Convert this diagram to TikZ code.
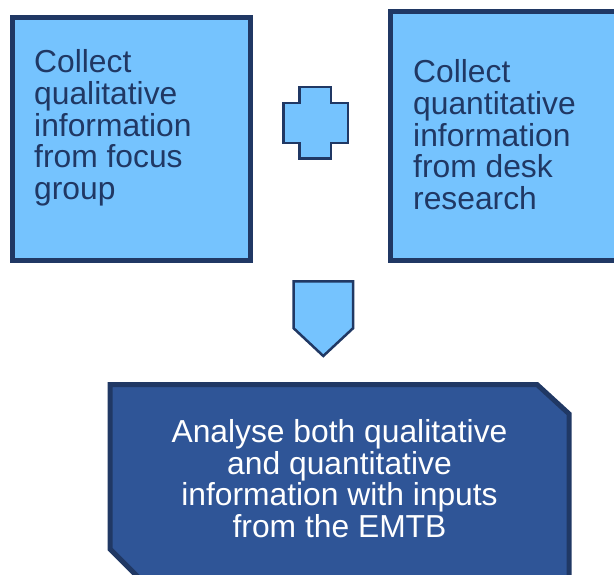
\documentclass[tikz,border=0pt]{standalone}
\usepackage{fontspec}
\setmainfont{Liberation Sans}
\usepackage{tikz}
\usetikzlibrary{positioning}

\definecolor{lightfill}{HTML}{75C3FE}
\definecolor{navyline}{HTML}{203864}
\definecolor{darkfill}{HTML}{2F5597}

\begin{document}
\begin{tikzpicture}[
        x=1pt, y=-1pt,
        inputbox/.style={rectangle, draw=navyline, fill=lightfill, line width=5pt, inner sep=0pt, outer sep=0pt},
        symbolshape/.style={draw=navyline, fill=lightfill, line width=2.5pt, line join=miter},
        boxtext/.style={font=\fontsize{31.8}{31.75}\selectfont, align=left, inner sep=0pt, text=navyline}
    ]

    \useasboundingbox (0,0) rectangle (614,575);

    % Two input boxes
    \node[inputbox, minimum width=238.6pt, minimum height=243.3pt] (qual) at (131.5,139.15) {};
    \node[inputbox, minimum width=250pt, minimum height=249.6pt] (quant) at (515,136) {};

    \node[boxtext, below right=31.8pt and 21.8pt of qual.north west] (qualtext)
        {Collect\\qualitative\\information\\from focus\\group};
    \node[boxtext, below right=48.1pt and 23pt of quant.north west] (quanttext)
        {Collect\\quantitative\\information\\from desk\\research};

    % --------------------------------------------------
    % plus sign between the boxes
    \draw[symbolshape] (283.7,102.8) -- (299.7,102.8) -- (299.7,87.2) -- (331.2,87.2)
        -- (331.2,102.8) -- (347.8,102.8) -- (347.8,142.8) -- (331.2,142.8)
        -- (331.2,158.5) -- (299.7,158.5) -- (299.7,142.8) -- (283.7,142.8) -- cycle;

    % --------------------------------------------------
    % down arrow (pentagon)
    \draw[symbolshape] (293.7,281.3) -- (353,281.3) -- (353,328.3) -- (323.3,356)
        -- (293.7,328.3) -- cycle;

    % --------------------------------------------------
    % result box, chamfered top right and bottom left
    \draw[draw=navyline, fill=darkfill, line width=5pt, line join=miter]
        (110,384.5) -- (537,384.5) -- (569.2,414) -- (569.2,590) -- (151,590)
        -- (110,549) -- cycle;
    \node[boxtext, align=center, text=white] (analyse) at (339.5,478.6)
        {Analyse both qualitative\\and quantitative\\information with inputs\\from the EMTB};

\end{tikzpicture}
\end{document}
